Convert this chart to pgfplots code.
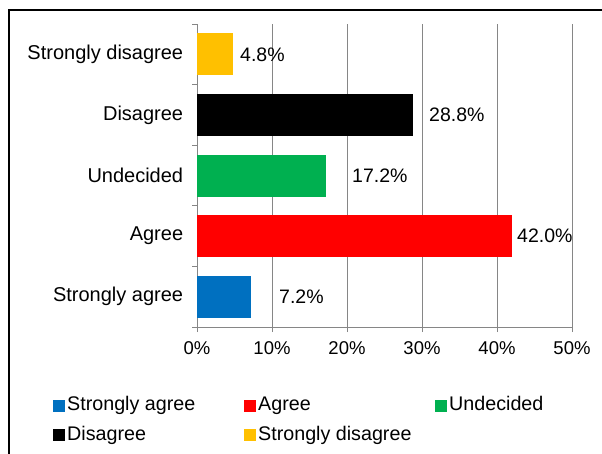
\documentclass[border=0pt]{standalone}
\usepackage{pgfplots}
\pgfplotsset{compat=1.18}
\usepackage{fontspec}
\setmainfont{Liberation Sans}
\definecolor{sa}{HTML}{0070C0}
\definecolor{ag}{HTML}{FF0000}
\definecolor{un}{HTML}{00B050}
\definecolor{di}{HTML}{000000}
\definecolor{sd}{HTML}{FFC000}
\definecolor{gridgray}{HTML}{868686}
\begin{document}
\fontsize{20bp}{24bp}\selectfont
\begin{tikzpicture}
\useasboundingbox (0,0) rectangle (602bp,454bp);
\draw[line width=2bp] (9bp,-10bp) -- (9bp,444bp) -- (620bp,444bp);
\begin{axis}[
  at={(197bp,127bp)}, anchor=south west,
  width=375bp, height=303bp, scale only axis,
  clip=false,
  xmin=0, xmax=50, ymin=-0.5, ymax=4.5,
  xtick={0,10,20,30,40,50},
  xticklabel={\pgfmathprintnumber{\tick}\%},
  xticklabel style={font=\fontsize{18.5bp}{22bp}\selectfont, yshift=-3bp},
  /pgf/number format/assume math mode=true,
  ytick={-0.5,0.5,1.5,2.5,3.5,4.5}, yticklabels={},
  extra y ticks={0,1,2,3,4},
  extra y tick labels={Strongly agree,Agree,Undecided,Disagree,Strongly disagree},
  extra y tick style={tick style={draw=none}, grid=none, yticklabel style={xshift=-2bp}},
  tick align=outside, major tick length=5bp,
  axis x line*=bottom, axis y line*=left,
  axis line style={gridgray, -, line width=0.8bp},
  tick style={gridgray, line width=0.8bp},
  xmajorgrids, grid style={gridgray, line width=0.8bp},
  legend columns=3,
  legend cell align=left,
  legend style={at={(-0.384,-0.2294)}, anchor=north west, draw=none, fill=none,
    inner sep=0pt, /tikz/column sep=0pt, /tikz/row sep=11.5bp,
    nodes={inner xsep=2bp, inner ysep=0pt, text height=14bp, text depth=4bp, text=black,
      font=\fontsize{19.7bp}{23bp}\selectfont}},
  legend image code/.code={\fill[#1] (0bp,-6bp) rectangle (12bp,6bp);},
  every axis plot/.append style={xbar, bar shift=0pt, bar width=42bp, draw=none, point meta=x,
    nodes near coords={\pgfmathprintnumber[fixed,fixed zerofill,precision=1]{\pgfplotspointmeta}\%}},
]
\addplot[fill=sa, nodes near coords style={anchor=west, inner xsep=0pt, xshift=28bp, text=black, font=\fontsize{19.5bp}{23bp}\selectfont}] coordinates {(7.2,0)};
\addlegendentry{\makebox[175bp][l]{Strongly agree}}
\addplot[fill=ag, nodes near coords style={anchor=west, inner xsep=0pt, xshift=5bp, text=black, font=\fontsize{19.5bp}{23bp}\selectfont}] coordinates {(42.0,1)};
\addlegendentry{\makebox[175bp][l]{Agree}}
\addplot[fill=un, nodes near coords style={anchor=west, inner xsep=0pt, xshift=26bp, text=black, font=\fontsize{19.5bp}{23bp}\selectfont}] coordinates {(17.2,2)};
\addlegendentry{\makebox[175bp][l]{Undecided}}
\addplot[fill=di, nodes near coords style={anchor=west, inner xsep=0pt, xshift=16bp, text=black, font=\fontsize{19.5bp}{23bp}\selectfont}] coordinates {(28.8,3)};
\addlegendentry{\makebox[175bp][l]{Disagree}}
\addplot[fill=sd, nodes near coords style={anchor=west, inner xsep=0pt, xshift=7bp, text=black, font=\fontsize{19.5bp}{23bp}\selectfont}] coordinates {(4.8,4)};
\addlegendentry{\makebox[175bp][l]{Strongly disagree}}
\end{axis}
\end{tikzpicture}
\end{document}
